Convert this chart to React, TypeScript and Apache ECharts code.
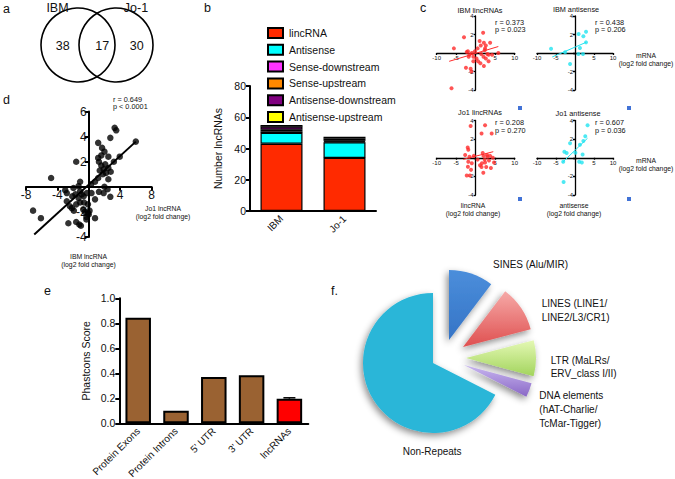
import React, { useEffect, useRef } from 'react';
import * as echarts from 'echarts';

// ---------- data ----------
const vennSets = ['IBM', 'Jo-1'];
const vennCounts = [38, 17, 30];

const dPoints: number[][] = [
  [-4.8, 0.7], [-7.1, -1.9], [-6.1, -2.5], [-1.6, 2.0], [1.2, 3.5], [3.3, 4.7], [3.5, 4.5], [2.75, 3.9], [6.0, 3.6],
  [1.7, 3.1], [2.0, 2.8], [1.6, 2.5], [1.2, 2.3], [2.5, 2.4], [3.95, 2.4], [3.2, 2.0],
  [1.3, 2.0], [1.6, 1.7], [1.9, 1.4], [1.4, 1.3], [2.1, 1.8], [2.5, 1.5], [2.8, 1.2], [2.2, 1.1], [1.8, 1.0],
  [1.2, 0.7], [0.8, 0.4], [0.3, 0.2], [2.5, 0.6], [2.0, 0.0], [1.3, -0.4], [1.9, -0.5], [2.75, -0.8], [2.4, -0.2],
  [-3.0, -0.27], [-2.8, -0.5], [-1.95, -0.1], [-1.3, 0.05], [-1.1, -0.35], [-2.1, -0.75], [-1.7, -0.6], [-0.88, -0.6],
  [-0.65, -0.75], [-1.3, -0.9], [-0.24, -0.5], [-2.8, -1.15], [-2.4, -1.55], [-1.6, -1.4], [-1.1, -1.25], [-0.6, -1.25],
  [-2.15, -1.7], [-0.7, -1.8], [-0.5, -2.0], [-0.1, -2.1], [-0.3, -2.4], [0.0, -2.2], [0.1, -1.9],
  [-2.6, -2.9], [-1.6, -2.8], [-1.2, -3.0], [-1.0, -3.1], [-0.3, -2.6], [0.8, -2.5], [-1.9, -1.9],
  [-1.1, 0.4], [0.35, -0.5], [-0.1, -1.4], [0.8, -1.0],
];
const dFit: number[][] = [[-6.95, -3.8], [6.0, 3.6]];
const dStats = ['r = 0.649', 'p < 0.0001'];

const barGroups = ['IBM', 'Jo-1'];
const lncTypes = ['lincRNA', 'Antisense', 'Sense-downstream', 'Sense-upstream', 'Antisense-downstream', 'Antisense-upstream'];
const ibmCounts = [43, 7, 1, 1, 2, 1];
const jo1Counts = [34, 10, 0.5, 0.5, 1.5, 1];

const ibmLinc: number[][] = [
  [-6.2, -3.8], [-5.6, 0.5], [-3.0, 1.7], [-2.5, -1.6], [-1.3, -1.7], [-1.1, -2.0],
  [-2.3, 0.1], [-2.0, 0.2], [-1.6, -0.2], [-1.8, -0.4], [-1.0, 0.0], [-0.6, -0.4], [-0.2, 0.2],
  [-0.6, -0.9], [0.2, -0.6], [0.6, -0.9], [1.2, -1.1], [1.9, 2.2], [1.0, 1.3], [1.3, 0.8], [2.1, 1.1],
  [2.4, 0.5], [1.4, -0.1], [3.7, 1.1], [2.3, 0.3], [3.0, -0.1], [2.0, -0.4], [3.3, -0.2], [2.6, -0.6],
  [5.8, 0.0], [4.2, -0.2], [3.3, -0.9], [2.1, -1.4], [2.6, 0.8], [0.5, 0.5],
];
const ibmLincFit: number[][] = [[-6.8, -0.9], [5.8, 0.7]];
const ibmAnti: number[][] = [
  [-6.3, 0.46], [-2.6, 0.07], [-1.3, -1.2], [0.95, 2.05], [2.2, 1.8], [2.9, 2.3], [1.3, 0.54], [0.9, -0.1], [2.1, -0.1], [2.9, 1.15],
];
const ibmAntiFit: number[][] = [[-6.0, -0.43], [2.9, 1.15]];
const jo1Linc: number[][] = [
  [-1.3, 3.4], [2.4, 3.5], [1.5, 2.6], [4.1, 2.6], [-2.05, 1.1], [-1.9, 0.85], [-2.7, 0.3], [-1.6, 0.1],
  [-1.9, -0.43], [-1.0, -0.6], [-2.0, -0.97], [-1.2, -1.3], [-2.3, -1.9], [-1.5, -1.9], [1.95, -1.6],
  [1.6, -0.6], [2.4, -0.5], [1.1, -0.8], [2.9, 0.3], [1.8, 0.5], [2.0, 0.2], [3.0, 0.1], [3.7, 0.2],
  [4.4, 0.0], [2.3, -0.2], [3.4, -0.3], [4.7, -0.5], [1.5, -1.0], [2.7, -1.0], [3.9, -1.1], [0.5, -0.2], [-0.5, 0.2],
];
const jo1LincFit: number[][] = [[-3.2, -0.17], [4.5, 0.65]];
const jo1Anti: number[][] = [
  [3.3, 3.5], [2.7, 2.3], [2.2, 1.8], [1.3, 1.4], [-1.3, 1.55], [-2.8, 0.65], [-2.2, 0.5], [0.1, 0.54],
  [2.0, 0.36], [-3.1, -0.43], [1.1, -0.43], [1.8, -0.5], [-3.0, -2.6],
];
const jo1AntiFit: number[][] = [[-3.3, -0.5], [3.3, 2.1]];
const cTitles = ['IBM lincRNAs', 'IBM antisense', 'Jo1 lincRNAs', 'Jo1 antisense'];
const cStats = [['r = 0.373', 'p = 0.023'], ['r = 0.438', 'p = 0.206'], ['r = 0.208', 'p = 0.270'], ['r = 0.607', 'p = 0.036']];

const regions = ['Protein Exons', 'Protein Introns', "5' UTR", "3' UTR", 'lncRNAs'];
const phastcons = [0.845, 0.1, 0.37, 0.385, 0.197];
const phastconsErr = [0, 0, 0, 0, 0.007];

const repeatNames = ['SINES (Alu/MIR)', 'LINES (LINE1/\nLINE2/L3/CR1)', 'LTR (MaLRs/\nERV_class I/II)', 'DNA elements\n(hAT-Charlie/\nTcMar-Tigger)', 'Non-Repeats'];
const repeatShares = [10.3, 10.6, 8.3, 3.3, 67.5];

// ---------- styles ----------
const FONT = 'Liberation Sans, Arial, sans-serif';
const INK = '#111';
const lncColors = ['#ff2a00', '#00ffff', '#ff33ff', '#ff8800', '#800080', '#ffff00'];
const RED = '#ff2b2b';
const CYAN = '#22e3f0';

function txt(text: string, x: number, y: number, size: number, align = 'left', extra: any = {}) {
  return {
    type: 'text', x, y, silent: true,
    style: { text, fill: INK, fontSize: size, fontFamily: FONT, align, verticalAlign: 'middle', ...extra },
  };
}

// value axis crossing the other axis at zero (moved there with a negative offset)
function sAxis(gridIndex: number, min: number, max: number, interval: number, fs: number, lw: number, tl: number, offset: number) {
  return {
    type: 'value', gridIndex, min, max, interval, offset,
    axisLine: { onZero: false, lineStyle: { color: '#000', width: lw } },
    axisTick: { show: true, length: tl, lineStyle: { color: '#000', width: lw } },
    axisLabel: { fontSize: fs, color: INK, fontFamily: FONT, margin: 2, formatter: (v: number) => (v === 0 ? '' : String(v)) },
    splitLine: { show: false },
  };
}

function buildOption() {
  const gridDefs = [
    { left: 26, top: 111.5, width: 125.5, height: 125.5 }, // d
    { left: 250, top: 86, width: 126, height: 125 }, // b
    { left: 119.3, top: 298.3, width: 189, height: 125 }, // e
    { left: 436.7, top: 16, width: 78, height: 74 }, // c TL
    { left: 537, top: 16, width: 76, height: 74 }, // c TR
    { left: 436.7, top: 120.5, width: 78, height: 74.5 }, // c BL
    { left: 537, top: 120.5, width: 76, height: 74.5 }, // c BR
  ];
  const grids = gridDefs.map((g) => ({ ...g, outerBoundsMode: 'none', containLabel: false }));
  const xOff = (gi: number, ymin: number, ymax: number) => -gridDefs[gi].height * (-ymin) / (ymax - ymin);
  const yOff = (gi: number, xmin: number, xmax: number) => -gridDefs[gi].width * (-xmin) / (xmax - xmin);

  const catAxisBase = (gridIndex: number, data: string[]) => ({
    type: 'category', gridIndex, data,
    axisLine: { lineStyle: { color: '#000', width: 2 } },
    axisTick: { alignWithLabel: true, length: 4, lineStyle: { color: '#000', width: 2 } },
    axisLabel: { rotate: 45, fontSize: 10, color: INK, fontFamily: FONT, margin: 6 },
  });
  const valAxisBase = (gridIndex: number, max: number, interval: number, name: string, gap: number, fmt?: any) => ({
    type: 'value', gridIndex, min: 0, max, interval, name, nameLocation: 'middle', nameGap: gap,
    nameTextStyle: { fontSize: 10.5, color: INK, fontFamily: FONT },
    axisLine: { show: true, lineStyle: { color: '#000', width: 2 } },
    axisTick: { show: true, length: 4, lineStyle: { color: '#000', width: 2 } },
    axisLabel: { fontSize: 10.5, color: INK, fontFamily: FONT, margin: 4, formatter: fmt },
    splitLine: { show: false },
  });

  const xAxis = [
    sAxis(0, -8, 8, 4, 12, 2, 4, xOff(0, -4, 6)),
    catAxisBase(1, barGroups),
    catAxisBase(2, regions),
    sAxis(3, -10, 10, 5, 6, 1.3, 2, xOff(3, -4, 4)),
    sAxis(4, -10, 10, 5, 6, 1.3, 2, xOff(4, -4, 4)),
    sAxis(5, -10, 10, 5, 6, 1.3, 2, xOff(5, -4, 4)),
    sAxis(6, -10, 10, 5, 6, 1.3, 2, xOff(6, -4, 4)),
  ];
  const yAxis = [
    sAxis(0, -4, 6, 2, 12, 2, 4, yOff(0, -8, 8)),
    valAxisBase(1, 80, 20, 'Number lncRNAs', 27),
    valAxisBase(2, 1, 0.2, 'Phastcons Score', 28, (v: number) => v.toFixed(1)),
    sAxis(3, -4, 4, 2, 6, 1.3, 2, yOff(3, -10, 10)),
    sAxis(4, -4, 4, 2, 6, 1.3, 2, yOff(4, -10, 10)),
    sAxis(5, -4, 4, 2, 6, 1.3, 2, yOff(5, -10, 10)),
    sAxis(6, -4, 4, 2, 6, 1.3, 2, yOff(6, -10, 10)),
  ];

  const series: any[] = [];
  // d
  series.push({ type: 'scatter', xAxisIndex: 0, yAxisIndex: 0, data: dPoints, symbolSize: 6.5, itemStyle: { color: '#000' }, silent: true });
  series.push({ type: 'line', xAxisIndex: 0, yAxisIndex: 0, data: dFit, symbol: 'none', lineStyle: { color: '#000', width: 2 }, silent: true });
  // b
  lncTypes.forEach((t, i) => {
    series.push({
      type: 'bar', name: t, xAxisIndex: 1, yAxisIndex: 1, stack: 'lnc', barWidth: 42,
      data: [ibmCounts[i], jo1Counts[i]],
      itemStyle: { color: lncColors[i], borderColor: '#000', borderWidth: 1.2 },
      silent: true,
    });
  });
  // e
  series.push({
    type: 'bar', xAxisIndex: 2, yAxisIndex: 2, barWidth: 25.5, silent: true,
    data: phastcons.map((v, i) => ({ value: v, itemStyle: { color: i === regions.length - 1 ? '#ff0000' : '#9a6232' } })),
    itemStyle: { borderColor: '#000', borderWidth: 2 },
  });
  series.push({
    type: 'custom', xAxisIndex: 2, yAxisIndex: 2, silent: true,
    data: phastcons.map((v, i) => [i, v, phastconsErr[i]]),
    encode: { x: 0, y: 1 },
    renderItem: (params: any, api: any) => {
      const e = api.value(2);
      if (!e) return null;
      const top = api.coord([api.value(0), api.value(1) + e]);
      const base = api.coord([api.value(0), api.value(1)]);
      return {
        type: 'group', children: [
          { type: 'line', shape: { x1: top[0], y1: top[1], x2: base[0], y2: base[1] }, style: { stroke: '#000', lineWidth: 1.5 } },
          { type: 'line', shape: { x1: top[0] - 6, y1: top[1], x2: top[0] + 6, y2: top[1] }, style: { stroke: '#000', lineWidth: 1.5 } },
        ],
      };
    },
  });
  // c
  const cSets = [
    [ibmLinc, ibmLincFit, RED], [ibmAnti, ibmAntiFit, CYAN], [jo1Linc, jo1LincFit, RED], [jo1Anti, jo1AntiFit, CYAN],
  ] as any[];
  cSets.forEach(([pts, fit, col], k) => {
    series.push({ type: 'scatter', xAxisIndex: 3 + k, yAxisIndex: 3 + k, data: pts, symbolSize: 4, itemStyle: { color: col }, silent: true });
    series.push({ type: 'line', xAxisIndex: 3 + k, yAxisIndex: 3 + k, data: fit, symbol: 'none', lineStyle: { color: col, width: 1 }, silent: true });
  });
  // f
  const LG = echarts.graphic.LinearGradient;
  const pieFills = [
    new LG(0, 0, 0, 1, [{ offset: 0, color: '#4b8edb' }, { offset: 1, color: '#3574c6' }]),
    new LG(0, 0, 0, 1, [{ offset: 0, color: '#f6aaa8' }, { offset: 1, color: '#df4f4f' }]),
    new LG(0, 0, 0, 1, [{ offset: 0, color: '#e4f8b4' }, { offset: 1, color: '#a2d45c' }]),
    new LG(0, 0, 0, 1, [{ offset: 0, color: '#c8b6f0' }, { offset: 1, color: '#8a68c6' }]),
    '#29b6d8',
  ];
  const pieCenters = [[449, 340], [463, 347], [466, 358], [464, 365], [433, 363]];
  repeatNames.forEach((_, k) => {
    series.push({
      type: 'pie', center: pieCenters[k], radius: 70, startAngle: 90, clockwise: true, silent: true,
      label: { show: false }, labelLine: { show: false }, emphasis: { disabled: true },
      data: repeatNames.map((n, i) => ({
        name: n, value: repeatShares[i],
        itemStyle: i === k
          ? { color: pieFills[k], borderWidth: 0, shadowBlur: 7, shadowColor: 'rgba(0,0,0,0.45)', shadowOffsetX: -2, shadowOffsetY: 3 }
          : { color: 'rgba(0,0,0,0)', borderWidth: 0 },
      })),
    });
  });

  const graphic: any[] = [];
  const two = (a: string, b: string, x: number, y: number, size = 6.8, lh = 8, align = 'center') => ({
    type: 'text', x, y: y - lh / 2, silent: true,
    style: { text: a + '\n' + b, fill: INK, fontSize: size, fontFamily: FONT, align, verticalAlign: 'top', lineHeight: lh },
  });
  // panel letters
  graphic.push(txt('a', 3, 9, 12.5), txt('b', 204, 8, 12.5), txt('c', 420, 8, 12.5), txt('d', 3, 100, 12.5), txt('e', 44, 291, 12.5), txt('f.', 331, 291, 12.5));
  // venn
  graphic.push({ type: 'circle', shape: { cx: 78, cy: 45, r: 37 }, style: { fill: 'none', stroke: '#000', lineWidth: 1.6 }, silent: true });
  graphic.push({ type: 'circle', shape: { cx: 116, cy: 45, r: 37 }, style: { fill: 'none', stroke: '#000', lineWidth: 1.6 }, silent: true });
  graphic.push(txt(vennSets[0], 57.5, 8, 12.5, 'center'), txt(vennSets[1], 136, 8, 12.5, 'center'));
  graphic.push(txt(String(vennCounts[0]), 62.7, 45.5, 12.5, 'center'), txt(String(vennCounts[1]), 102.3, 45.5, 12.5, 'center'), txt(String(vennCounts[2]), 136.7, 45.5, 12.5, 'center'));
  // d texts
  graphic.push(two(dStats[0], dStats[1], 113, 99, 7.3, 7.8, 'left'));
  graphic.push(two('Jo1 lncRNA', '(log2 fold change)', 163, 208.2));
  graphic.push(two('IBM lncRNA', '(log2 fold change)', 88.5, 256.5));
  // c texts
  const tPos = [[480, 10], [576, 9.5], [480, 112.5], [578, 113.5]];
  cTitles.forEach((t, i) => graphic.push(txt(t, tPos[i][0], tPos[i][1], 7.3, 'center')));
  const sPos = [[495, 22], [595, 22], [495, 122.7], [595, 122.7]];
  cStats.forEach((s, i) => graphic.push(two(s[0], s[1], sPos[i][0], sPos[i][1], 7.3, 7.8, 'left')));
  graphic.push(two('mRNA', '(log2 fold change)', 646, 55.8));
  graphic.push(two('mRNA', '(log2 fold change)', 646, 160.5));
  graphic.push(two('lincRNA', '(log2 fold change)', 473, 205));
  graphic.push(two('antisense', '(log2 fold change)', 574, 205));
  [[518, 106], [627, 106], [518, 197], [627, 197]].forEach(([x, y]) =>
    graphic.push({ type: 'rect', shape: { x, y, width: 4, height: 4 }, style: { fill: '#4172d6' }, silent: true }));
  // f labels
  const lblPos = [[493, 264], [541.7, 303.3], [550.7, 360], [539.3, 395.7], [402.7, 451]];
  repeatNames.forEach((n, i) => {
    graphic.push({
      type: 'text', x: lblPos[i][0], y: lblPos[i][1] - 6.8, silent: true,
      style: { text: n, fill: INK, fontSize: 10, fontFamily: FONT, align: 'left', verticalAlign: 'top', lineHeight: 13.7 },
    });
  });

  return {
    animation: false,
    backgroundColor: '#fff',
    textStyle: { fontFamily: FONT },
    grid: grids,
    xAxis, yAxis, series, graphic,
    legend: {
      data: lncTypes, orient: 'vertical', left: 267, top: 27, itemWidth: 15, itemHeight: 10, itemGap: 4.8,
      icon: 'rect', selectedMode: false,
      textStyle: { fontSize: 10.5, color: INK, fontFamily: FONT, padding: [0, 0, 0, 1] },
      padding: 0,
    },
  };
}

export default function App() {
  const ref = useRef<HTMLDivElement>(null);
  useEffect(() => {
    const chart = echarts.init(ref.current!, null, { renderer: 'svg', width: 675, height: 479 });
    chart.setOption(buildOption() as any);
    return () => chart.dispose();
  }, []);
  return <div ref={ref} style={{ position: 'fixed', left: 0, top: 0, width: 675, height: 479, background: '#fff' }} />;
}
